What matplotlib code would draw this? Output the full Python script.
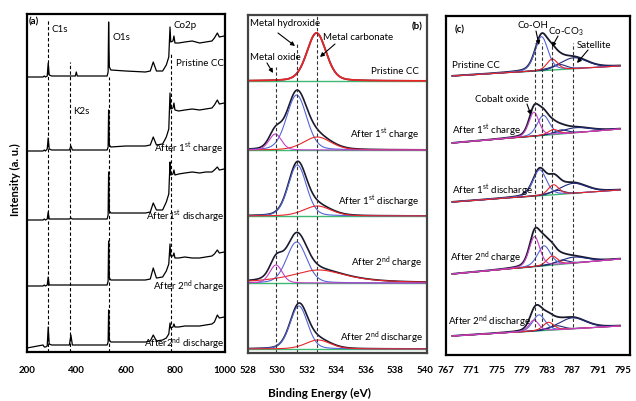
import numpy as np
import matplotlib
matplotlib.use('Agg')
import matplotlib.pyplot as plt

plt.rcParams['font.family'] = ['Lato', 'DejaVu Sans']
plt.rcParams['mathtext.default'] = 'regular'

W, H = 636, 401

# ---------------- data ----------------
# (a) survey spectra: key points (binding energy, intensity above each trace's start)
survey_energy = [200, 265, 270, 275, 282, 286, 290, 300, 372, 378, 384, 396, 400, 404,
                 525, 529, 531, 534, 540, 600, 680, 700, 712, 725, 750, 765, 775, 780,
                 783, 792, 796, 800, 815, 840, 870, 900, 925, 950, 960, 972, 980, 1000]
survey_pristine = [0, 0, 1, 0, 1, 14, 2, 1, 1, 1, 1, 1, 5, 1,
                   1, 5, 55, 10, 7, 6, 5, 6, 15, 6, 6, 12, 20, 50,
                   35, 36, 41, 34, 34, 35, 36, 34, 35, 36, 39, 44, 40, 41]
survey_charge1 = [0, 0, 1, 0, 2, 13, 2, 1, 1, 5, 1, 1, 1, 1,
                  1, 4, 41, 6, 4, 5, 5, 6, 14, 6, 7, 14, 22, 58,
                  42, 43, 48, 41, 40, 41, 42, 41, 42, 43, 46, 51, 47, 48]
survey_discharge1 = [0, 0, 1, 0, 1, 8, 1, 1, 1, 2, 1, 1, 1, 1,
                     1, 5, 48, 9, 7, 7, 7, 8, 17, 10, 10, 18, 26, 58,
                     45, 46, 50, 45, 46, 47, 48, 47, 48, 48, 50, 53, 50, 51]
survey_charge2 = [0, 0, 1, 0, 1, 9, 1, 1, 1, 1, 1, 1, 1, 1,
                  1, 5, 45, 8, 6, 6, 6, 7, 18, 8, 9, 15, 22, 42,
                  30, 30, 33, 28, 28, 29, 28, 28, 29, 30, 32, 36, 33, 34]
survey_discharge2 = [0, 3, 1, 1, 2, 21, 4, 3, 3, 13, 3, 3, 3, 3,
                     3, 6, 38, 8, 6, 6, 6, 7, 13, 7, 8, 10, 14, 25,
                     20, 21, 24, 21, 21, 22, 22, 22, 23, 24, 26, 33, 30, 31]
survey_lines = [287, 376, 531, 785]
survey_names = ['C1s', 'K2s', 'O1s', 'Co2p']

# (b) O1s fitted components: (centre eV, height, FWHM eV, Lorentz fraction)
o1s_pristine = {'carbonate': (532.65, 48, 1.55, 0.25)}
o1s_charge1 = {'hydroxide': (531.3, 55, 1.6, 0.2), 'carbonate': (532.7, 13, 2.2, 0.3),
               'oxide': (529.85, 16, 1.0, 0.2)}
o1s_discharge1 = {'hydroxide': (531.35, 51, 1.45, 0.2), 'carbonate': (532.7, 10, 2.2, 0.3)}
o1s_charge2 = {'hydroxide': (531.3, 41, 1.6, 0.2), 'carbonate': (532.8, 13, 4.5, 0.8),
               'oxide': (529.9, 18, 1.0, 0.2)}
o1s_discharge2 = {'hydroxide': (531.45, 43, 1.4, 0.2), 'carbonate': (532.75, 9, 2.0, 0.3)}
o1s_lines = [529.9, 531.35, 532.65]

# (c) Co2p3/2 fitted components
co_pristine = {'satellite': (787.2, 11, 5.0, 0.3), 'shake': (785.0, 5, 2.5, 0.3),
               'hydroxide': (782.1, 34, 2.4, 0.3), 'carbonate': (783.8, 11, 2.0, 0.3)}
co_charge1 = {'satellite': (787.5, 5, 5.5, 0.3), 'shake': (785.2, 4, 2.5, 0.3),
              'hydroxide': (782.4, 20, 2.3, 0.3), 'carbonate': (784.0, 5, 2.0, 0.3),
              'oxide': (780.9, 24, 1.9, 0.3)}
co_discharge1 = {'satellite': (787.1, 10, 5.0, 0.3), 'shake': (784.6, 4, 2.5, 0.3),
                 'hydroxide': (781.8, 26, 2.5, 0.3), 'carbonate': (784.0, 10, 2.0, 0.3)}
co_charge2 = {'satellite': (787.2, 6, 5.0, 0.3), 'shake': (785.3, 4, 2.5, 0.3),
              'hydroxide': (782.5, 20, 2.4, 0.3), 'carbonate': (783.8, 9, 2.0, 0.3),
              'oxide': (781.0, 30, 2.0, 0.3)}
co_discharge2 = {'satellite': (787.0, 11, 5.0, 0.3), 'shake': (784.5, 4, 2.5, 0.3),
                 'hydroxide': (781.7, 16, 2.3, 0.3), 'carbonate': (783.2, 8, 2.0, 0.3),
                 'oxide': (780.9, 11, 1.8, 0.3)}
co_bg_rise = [10, 14, 12, 15, 10]
co_lines = [781.0, 782.2, 783.8, 787.1]

# ---------------- layout / style ----------------
fig = plt.figure(figsize=(W / 100, H / 100), dpi=100)

def box(l, t, r, b):
    return [l / W, 1 - b / H, (r - l) / W, (b - t) / H]

axA = fig.add_axes(box(27, 14, 225, 352))
axB = fig.add_axes(box(248, 15, 427, 353))
axC = fig.add_axes(box(446, 16, 630, 355))

BLACK = '#1a1a2e'
COL = {'hydroxide': '#5566d6', 'carbonate': '#e8262a', 'oxide': '#c63fc6',
       'satellite': '#1f2a78', 'shake': '#1f2a78'}
GREEN = '#3fb874'
DASH = (0, (3, 2))

def pv(x, c, h, w, eta):
    g = np.exp(-4 * np.log(2) * ((x - c) / w) ** 2)
    l = 1 / (1 + 4 * ((x - c) / w) ** 2)
    return h * ((1 - eta) * g + eta * l)

for ax, pad in ((axA, 10), (axB, 9.4), (axC, 8.2)):
    ax.tick_params(axis='x', length=0, pad=pad, labelsize=7)
    ax.set_yticks([])
    for s in ax.spines.values():
        s.set_linewidth(1.6)
        s.set_color('black')
for s in axB.spines.values():
    s.set_color('#444444')

# ---------------- (a) ----------------
a_offsets = [275, 201, 132, 66, 4]
surveys = [survey_pristine, survey_charge1, survey_discharge1, survey_charge2, survey_discharge2]
for off, sv in zip(a_offsets, surveys):
    axA.plot(survey_energy, np.array(sv) + off, color='black', lw=0.9)
line_tops_a = [332, 290, 275, 299]
for xv, top in zip(survey_lines, line_tops_a):
    axA.plot([xv, xv], [0, top], color='black', lw=0.8, ls=DASH)
axA.set_xlim(200, 1003)
axA.set_ylim(0, 338)
axA.set_xticks([200, 400, 600, 800, 1000])

# ---------------- (b) ----------------
b_offsets = [272, 203, 137, 70, 4]
o1s_all = [o1s_pristine, o1s_charge1, o1s_discharge1, o1s_charge2, o1s_discharge2]
xb = np.linspace(528, 540.15, 700)
for off, comps in zip(b_offsets, o1s_all):
    total = sum(pv(xb, *p) for p in comps.values())
    axB.plot(xb, off + total, color=BLACK, lw=1.2)
    axB.plot(xb, np.full_like(xb, off), color=GREEN, lw=1.0)
    for name in ['hydroxide', 'carbonate', 'oxide']:
        if name in comps:
            lw = 1.3 if len(comps) == 1 else 0.8
            axB.plot(xb, off + pv(xb, *comps[name]), color=COL[name], lw=lw)
line_tops_b = [286, 310, 338]
for xv, top in zip(o1s_lines, line_tops_b):
    axB.plot([xv, xv], [0, top], color='#333333', lw=0.8, ls=DASH)
axB.set_xlim(528, 540.15)
axB.set_ylim(0, 338)
axB.set_xticks([528, 530, 532, 534, 536, 538, 540])

# ---------------- (c) ----------------
c_offsets = [279, 212, 153, 81, 19]
co_all = [co_pristine, co_charge1, co_discharge1, co_charge2, co_discharge2]
xc = np.linspace(768, 794.5, 700)
xg = np.linspace(778.5, 788.5, 200)
for off, rise, comps in zip(c_offsets, co_bg_rise, co_all):
    bg = off + rise * (xc - 768) / (794.5 - 768)
    bgg = off + rise * (xg - 768) / (794.5 - 768)
    total = sum(pv(xc, *p) for p in comps.values())
    axC.plot(xc, bg + total, color=BLACK, lw=1.3)
    axC.plot(xg, bgg, color=GREEN, lw=1.0)
    for name in ['satellite', 'shake', 'hydroxide', 'carbonate', 'oxide']:
        if name in comps:
            axC.plot(xc, bg + pv(xc, *comps[name]), color=COL[name], lw=0.8)
for xv in co_lines:
    axC.plot([xv, xv], [28, 312], color='#333333', lw=0.8, ls=DASH)
axC.set_xlim(767, 796.1)
axC.set_ylim(0, 339)
axC.set_xticks([767, 771, 775, 779, 783, 787, 791, 795])

for ax in (axA, axB, axC):
    for lab in ax.get_xticklabels():
        lab.set_fontweight('bold')

# ---------------- texts ----------------
def T(x, y, s, ha='left', size=7, weight='normal'):
    fig.text(x / W, 1 - y / H, s, ha=ha, va='center', fontsize=size, fontweight=weight)

def A(tx, ty, hx, hy):
    fig.add_artist(matplotlib.patches.FancyArrowPatch(
        (tx / W, 1 - ty / H), (hx / W, 1 - hy / H), transform=fig.transFigure,
        arrowstyle='-|>', mutation_scale=6, lw=0.8, color='black',
        shrinkA=0, shrinkB=0))

st = '$^{st}$'
nd = '$^{nd}$'
# (a)
T(29, 22, '(a)', weight='bold')
T(52, 30, 'C1s')
T(73, 111, 'K2s')
T(113, 38, 'O1s')
T(173, 25, 'Co2p')
T(224, 64, 'Pristine CC', ha='right')
T(223, 148, 'After 1' + st + ' charge', ha='right')
T(224, 216, 'After1' + st + ' discharge', ha='right')
T(224, 287, 'After 2' + nd + ' charge', ha='right')
T(225, 344, 'After2' + nd + ' discharge', ha='right')
# (b)
T(422, 27, '(b)', ha='right', weight='bold')
T(250, 24, 'Metal hydroxide')
T(250, 57, 'Metal oxide')
T(323, 37, 'Metal carbonate')
T(419, 71, 'Pristine CC', ha='right')
T(419, 134, 'After 1' + st + ' charge', ha='right')
T(419, 201, 'After 1' + st + ' discharge', ha='right')
T(422, 263, 'After 2' + nd + ' charge', ha='right')
T(423, 338, 'After 2' + nd + ' discharge', ha='right')
A(278, 33, 295, 46)
A(267, 63, 273, 73)
A(335, 44, 320, 57)
# (c)
T(455, 30, '(c)', weight='bold')
T(518, 25, 'Co-OH')
T(548, 32, 'Co-CO$_3$')
T(577, 45, 'Satellite')
T(452, 65, 'Pristine CC')
T(475, 100, 'Cobalt oxide')
T(452, 130, 'After 1' + st + ' charge')
T(452, 190, 'After 1' + st + ' discharge')
T(450, 258, 'After 2' + nd + ' charge')
T(448, 322, 'After 2' + nd + ' discharge')
A(536, 31, 539, 45)
A(558, 36, 552, 47)
A(588, 50, 577, 63)
A(527, 104, 531, 115)

# axis titles
T(319, 393, 'Binding Energy (eV)', ha='center', size=8.5, weight='bold')
fig.text(15 / W, 1 - 180 / H, 'Intensity (a. u.)', rotation=90, ha='center', va='center',
         fontsize=8, fontweight='bold')

fig.savefig('out.png', dpi=100)
